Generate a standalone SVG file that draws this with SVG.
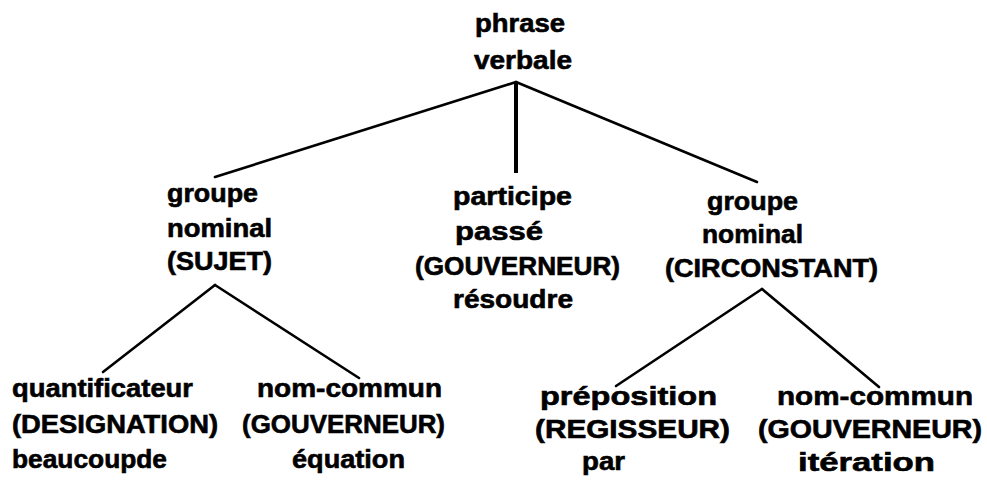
<svg xmlns="http://www.w3.org/2000/svg" width="987" height="485" viewBox="0 0 987 485">
<style>
text{font-family:"Liberation Sans",Arial,sans-serif;font-weight:bold;font-size:25px;fill:#000;stroke:#000;stroke-width:0.6}
.e{stroke:#000;stroke-width:2.6;stroke-linecap:round;fill:none}
.v{stroke:#000;stroke-width:4;fill:none}
</style>
<rect width="987" height="485" fill="#fff"/>
<g id="connectors">
<line class="e" x1="516" y1="82" x2="215" y2="177"/>
<line class="v" x1="516" y1="82" x2="516" y2="173"/>
<line class="e" x1="516" y1="82" x2="757" y2="182"/>
<line class="e" x1="215" y1="285" x2="103" y2="372"/>
<line class="e" x1="215" y1="285" x2="359" y2="378"/>
<line class="e" x1="762" y1="289" x2="616" y2="386"/>
<line class="e" x1="762" y1="289" x2="879" y2="387"/>
</g>
<g id="phrase-verbale">
<text x="475" y="32" textLength="90" lengthAdjust="spacingAndGlyphs">phrase</text>
<text x="474" y="69" textLength="98" lengthAdjust="spacingAndGlyphs">verbale</text>
</g>
<g id="gn-sujet">
<text x="167" y="202" textLength="91" lengthAdjust="spacingAndGlyphs">groupe</text>
<text x="167" y="237" textLength="105" lengthAdjust="spacingAndGlyphs">nominal</text>
<text x="167" y="270" textLength="105" lengthAdjust="spacingAndGlyphs">(SUJET)</text>
</g>
<g id="participe-passe">
<text x="453" y="205" textLength="119" lengthAdjust="spacingAndGlyphs">participe</text>
<text x="455" y="240" textLength="88" lengthAdjust="spacingAndGlyphs">passé</text>
<text x="415" y="275" textLength="205" lengthAdjust="spacingAndGlyphs">(GOUVERNEUR)</text>
<text x="453" y="308" textLength="120" lengthAdjust="spacingAndGlyphs">résoudre</text>
</g>
<g id="gn-circonstant">
<text x="707" y="210" textLength="91" lengthAdjust="spacingAndGlyphs">groupe</text>
<text x="702" y="243" textLength="101" lengthAdjust="spacingAndGlyphs">nominal</text>
<text x="665" y="277" textLength="213" lengthAdjust="spacingAndGlyphs">(CIRCONSTANT)</text>
</g>
<g id="quantificateur">
<text x="12" y="397" textLength="181" lengthAdjust="spacingAndGlyphs">quantificateur</text>
<text x="12" y="433" textLength="206" lengthAdjust="spacingAndGlyphs">(DESIGNATION)</text>
<text x="12" y="468" textLength="155" lengthAdjust="spacingAndGlyphs">beaucoupde</text>
</g>
<g id="nom-commun-1">
<text x="257" y="397" textLength="185" lengthAdjust="spacingAndGlyphs">nom-commun</text>
<text x="242" y="433" textLength="203" lengthAdjust="spacingAndGlyphs">(GOUVERNEUR)</text>
<text x="292" y="468" textLength="113" lengthAdjust="spacingAndGlyphs">équation</text>
</g>
<g id="preposition">
<text x="540" y="405" textLength="177" lengthAdjust="spacingAndGlyphs">préposition</text>
<text x="535" y="438" textLength="195" lengthAdjust="spacingAndGlyphs">(REGISSEUR)</text>
<text x="582" y="470" textLength="43" lengthAdjust="spacingAndGlyphs">par</text>
</g>
<g id="nom-commun-2">
<text x="777" y="405" textLength="196" lengthAdjust="spacingAndGlyphs">nom-commun</text>
<text x="758" y="438" textLength="224" lengthAdjust="spacingAndGlyphs">(GOUVERNEUR)</text>
<text x="798" y="471" textLength="137" lengthAdjust="spacingAndGlyphs">itération</text>
</g>
</svg>
